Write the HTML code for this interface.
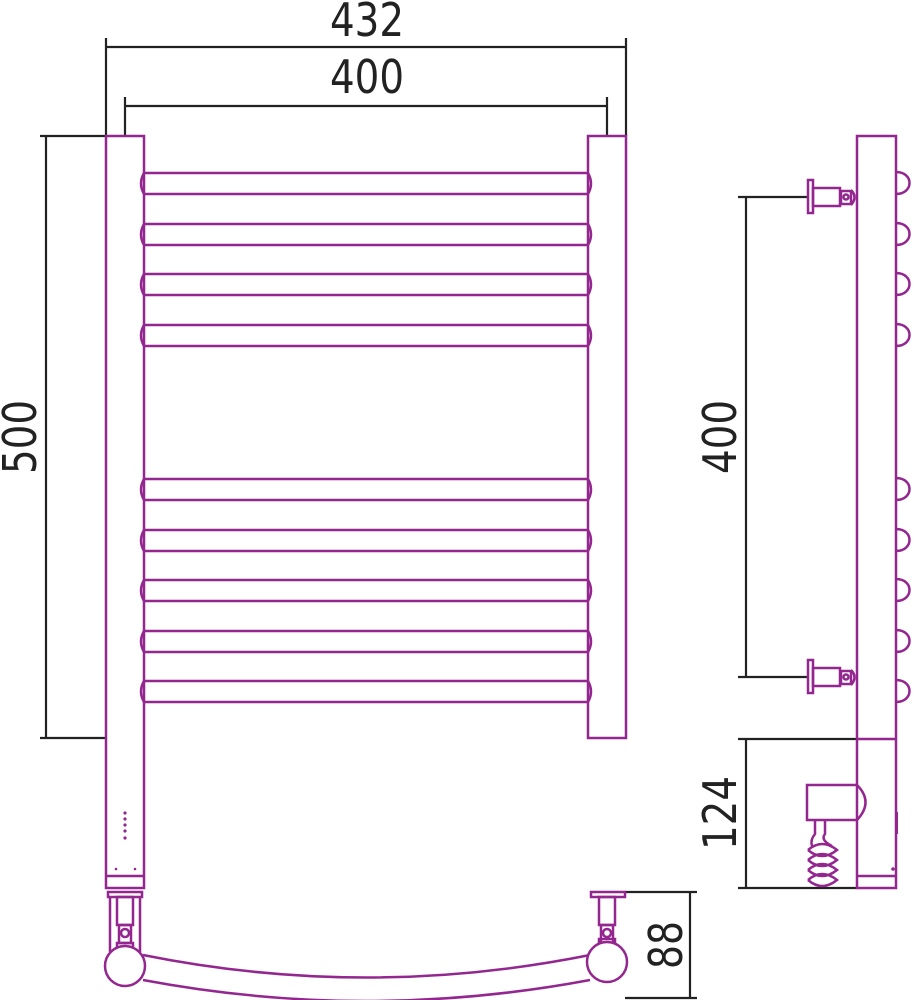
<!DOCTYPE html>
<html><head><style>html,body{margin:0;padding:0;background:#fff}svg{display:block}</style></head>
<body>
<svg width="914" height="1000" viewBox="0 0 914 1000" xmlns="http://www.w3.org/2000/svg">
<g fill="none" stroke="#222" stroke-width="2.2">
  <path d="M106 38V136M626 38V136M106 47H626"/>
  <path d="M125 97V136M607 97V136M125 106H607"/>
  <path d="M40 136H106M40 738H106M46 136V738"/>
  <path d="M738 197H808M738 677H808M746 197V677"/>
  <path d="M738 739H857M738 888H857M746 739V888"/>
  <path d="M625 892H697M625 998H697M690 892V998"/>
</g>
<g font-family="'DejaVu Sans Condensed','Liberation Sans',sans-serif" font-size="46" fill="#222" text-anchor="middle">
  <text x="367" y="36" textLength="74" lengthAdjust="spacingAndGlyphs">432</text>
  <text x="367" y="93" textLength="74" lengthAdjust="spacingAndGlyphs">400</text>
  <text transform="translate(36,437) rotate(-90)" textLength="74" lengthAdjust="spacingAndGlyphs">500</text>
  <text transform="translate(736,437) rotate(-90)" textLength="74" lengthAdjust="spacingAndGlyphs">400</text>
  <text transform="translate(736,813) rotate(-90)" textLength="74" lengthAdjust="spacingAndGlyphs">124</text>
  <text transform="translate(682,945) rotate(-90)" textLength="48" lengthAdjust="spacingAndGlyphs">88</text>
</g>
<g fill="none" stroke="#93278f" stroke-width="2.5">
  <rect x="106" y="136" width="38" height="752"/>
  <path d="M106 876H144"/>
  <rect x="588" y="136" width="38" height="602"/>
  <g id="rails">
    <path d="M144 173H588M144 194H588M144 173Q138 183.5 144 194M588 173Q594 183.5 588 194"/>
  </g>
  <use href="#rails" y="51"/>
  <use href="#rails" y="101"/>
  <use href="#rails" y="152"/>
  <use href="#rails" y="306"/>
  <use href="#rails" y="357"/>
  <use href="#rails" y="407"/>
  <use href="#rails" y="458"/>
  <use href="#rails" y="508"/>
  <rect x="108" y="892" width="34" height="5"/>
  <path d="M110 897V952M140 897V952"/>
  <rect x="117" y="897" width="16" height="28"/>
  <rect x="119" y="925" width="12" height="18"/>
  <circle cx="125" cy="933" r="4"/>
  <rect x="117" y="943" width="16" height="6"/>
  <path d="M143 955Q366 1000 590 955M143 980Q366 1022 590 980"/>
  <circle cx="125" cy="966" r="20" fill="#fff"/>
  <rect x="591" y="892" width="34" height="5"/>
  <rect x="599" y="897" width="16" height="28"/>
  <rect x="601" y="925" width="12" height="18"/>
  <circle cx="607" cy="933" r="4"/>
  <rect x="599" y="939" width="16" height="6"/>
  <circle cx="607" cy="962" r="20" fill="#fff"/>
  <rect x="857" y="136" width="39" height="752"/>
  <path d="M857 739H896M857 876H896"/>
  <g id="bump"><path d="M896 172C914 172 914 194 896 194"/></g>
  <use href="#bump" y="51"/>
  <use href="#bump" y="101"/>
  <use href="#bump" y="152"/>
  <use href="#bump" y="306"/>
  <use href="#bump" y="357"/>
  <use href="#bump" y="407"/>
  <use href="#bump" y="458"/>
  <use href="#bump" y="508"/>
  <g id="br">
    <rect x="808" y="180" width="5" height="33"/>
    <rect x="813" y="188" width="27" height="18"/>
    <rect x="841" y="191" width="10" height="13"/>
    <circle cx="846" cy="197" r="2.5"/>
    <path d="M851 190Q858 197 851 205"/>
  </g>
  <use href="#br" y="480"/>
  <path d="M857 785H807V820H857M857 785Q874 802 857 820"/>
  <path d="M815 820V834Q810 840 812 846M825 820V834Q820 840 832 846"/>
  <path d="M808 850Q822 838 837 850Q822 862 808 850M808 860Q822 848 837 860Q822 872 808 860M808 870Q822 858 837 870Q822 882 808 870M808 880Q822 868 837 880Q822 892 808 880"/>
</g>
<g fill="#93278f">
  <circle cx="125" cy="813" r="1.6"/><circle cx="125" cy="819" r="1.6"/><circle cx="125" cy="825" r="1.6"/><circle cx="125" cy="831" r="1.6"/><circle cx="125" cy="838" r="1.6"/>
  <circle cx="116" cy="869" r="1.3"/><circle cx="135" cy="869" r="1.3"/>
  <circle cx="893" cy="869" r="1.8"/>
  <rect x="895" y="812" width="3" height="22"/>
</g>
</svg>
</body></html>
